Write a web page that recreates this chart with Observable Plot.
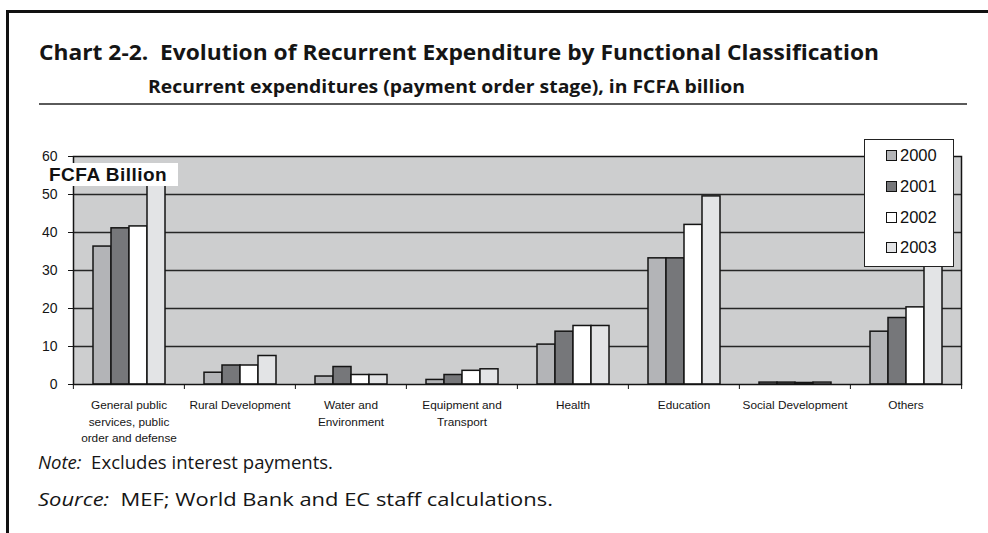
<!DOCTYPE html>
<html>
<head>
<meta charset="utf-8">
<script src="https://cdn.jsdelivr.net/npm/d3@7"></script>
<script src="https://cdn.jsdelivr.net/npm/@observablehq/plot@0.6"></script>
<style>
  html, body { margin: 0; padding: 0; background: #fff; }
  #page { position: relative; width: 988px; height: 533px; overflow: hidden; background: #fff; }
  .bar-top { position: absolute; left: 6px; top: 10px; width: 982px; height: 3px; background: #111; }
  .bar-left { position: absolute; left: 6px; top: 10px; width: 3px; height: 523px; background: #111; }
  .txt { position: absolute; white-space: nowrap; transform-origin: 0 0; font-family: "Open Sans", sans-serif; color: #151515; }
  #title { left: 39px; top: 42px; font-size: 21px; line-height: 21px; font-weight: 700; }
  #subtitle { left: 148px; top: 78px; font-size: 17px; line-height: 17px; font-weight: 700; }
  #rule { position: absolute; left: 39px; top: 103px; width: 928px; height: 2px; background: #5a5a5a; }
  #note { left: 38px; top: 454px; font-size: 17.5px; line-height: 17.5px; }
  #source { left: 38px; top: 491px; font-size: 17.5px; line-height: 17.5px; }
  #chart { position: absolute; left: 0; top: 140px; }
  #unit { position: absolute; left: 43px; top: 163px; width: 135px; height: 23px; background: #fff;
          font-family: "Liberation Sans", Arial, sans-serif; font-weight: 700; font-size: 19px; line-height: 23px;
          letter-spacing: 0.5px; padding-left: 6px; box-sizing: border-box; color: #111; white-space: nowrap; }
  #legend { position: absolute; left: 864px; top: 139px; width: 90px; height: 128px; background: #fff;
            border: 1.5px solid #222; box-sizing: border-box; }
  .lg-row { position: absolute; left: 0; height: 20px; display: flex; align-items: center;
            font-family: "Liberation Sans", Arial, sans-serif; font-size: 16.5px; color: #111; }
  .lg-sw { width: 11px; height: 11px; border: 1.5px solid #111; box-sizing: border-box; margin-left: 21px; margin-right: 3px; }
</style>
</head>
<body>
<div id="page">
  <div class="bar-top"></div>
  <div class="bar-left"></div>
  <div id="title" class="txt">Chart 2-2.&nbsp;&nbsp;Evolution of Recurrent Expenditure by Functional Classification</div>
  <div id="subtitle" class="txt">Recurrent expenditures (payment order stage), in FCFA billion</div>
  <div id="rule"></div>
  <div id="chart"></div>
  <div id="unit">FCFA Billion</div>
  <div id="legend"></div>
  <div id="note" class="txt"><i>Note:</i>&nbsp;&nbsp;Excludes interest payments.</div>
  <div id="source" class="txt"><i>Source:</i>&nbsp;&nbsp;MEF; World Bank and EC staff calculations.</div>
</div>
<script>
// ---- data ----
const categories = [
  "General public services, public order and defense",
  "Rural Development",
  "Water and Environment",
  "Equipment and Transport",
  "Health",
  "Education",
  "Social Development",
  "Others"
];
const categoryLabels = [
  "General public\nservices, public\norder and defense",
  "Rural Development",
  "Water and\nEnvironment",
  "Equipment and\nTransport",
  "Health",
  "Education",
  "Social Development",
  "Others"
];
const years = ["2000", "2001", "2002", "2003"];
const values2000 = [36.3, 3.1, 2.1, 1.2, 10.5, 33.2, 0.5, 13.9];
const values2001 = [41.1, 5.0, 4.6, 2.5, 13.9, 33.2, 0.5, 17.5];
const values2002 = [41.6, 5.0, 2.5, 3.6, 15.4, 42.0, 0.4, 20.3];
const values2003 = [55.0, 7.5, 2.5, 4.0, 15.4, 49.5, 0.5, 36.0];
const yTicks = [0, 10, 20, 30, 40, 50, 60];
const gridTicks = [10, 20, 30, 40, 50];
const yearColors = ["#b3b4b7", "#76777a", "#ffffff", "#e3e4e6"];

const series = [values2000, values2001, values2002, values2003];
const rows = [];
categories.forEach((c, i) => years.forEach((y, j) => rows.push({category: c, year: y, value: series[j][i]})));
const labelOf = new Map(categories.map((c, i) => [c, categoryLabels[i]]));

// ---- layout ----
const W = 988, H = 320, mL = 72, mR = 26, mT = 16, mB = 76;
const facetW = (W - mL - mR) / categories.length;

const chart = Plot.plot({
  width: W, height: H,
  marginLeft: mL, marginRight: mR, marginTop: mT, marginBottom: mB,
  style: {fontFamily: "'Liberation Sans', Arial, sans-serif", color: "#151515", background: "transparent", overflow: "visible"},
  fx: {domain: categories, padding: 0, label: null},
  x: {domain: years, paddingInner: 0, paddingOuter: 1.04, axis: null},
  y: {domain: [0, 60], axis: null},
  color: {domain: years, range: yearColors},
  marks: [
    Plot.frame({facet: "super", fill: "#cdcecf"}),
    Plot.ruleY(gridTicks, {stroke: "#262626", strokeWidth: 1.4}),
    Plot.barY(rows, {fx: "category", x: "year", y: "value", fill: "year", stroke: "#141414", strokeWidth: 1.5}),
    Plot.frame({facet: "super", stroke: "#141414", strokeWidth: 1.5}),
    Plot.axisY({ticks: yTicks, tickSize: 5, tickPadding: 11, fontSize: 14, label: null, stroke: "#141414"}),
    Plot.axisFx({anchor: "bottom", tickSize: 0, tickPadding: 13, fontSize: 11.8, lineHeight: 1.4, label: null,
                 tickFormat: d => labelOf.get(d)}),
    Plot.axisFx({anchor: "bottom", tickSize: 5, label: null, tickFormat: () => "", dx: -facetW / 2, stroke: "#141414"}),
    Plot.axisFx({anchor: "bottom", ticks: [categories[categories.length - 1]], tickSize: 5, label: null,
                 tickFormat: () => "", dx: facetW / 2, stroke: "#141414"})
  ]
});
document.getElementById("chart").appendChild(chart);

// ---- legend ----
const legend = document.getElementById("legend");
const rowCenters = [17, 47.7, 78.7, 109.3];
years.forEach((y, i) => {
  const r = document.createElement("div");
  r.className = "lg-row";
  r.style.top = (rowCenters[i] - 10 - 1.5) + "px";
  const sw = document.createElement("span");
  sw.className = "lg-sw";
  sw.style.background = yearColors[i];
  const t = document.createElement("span");
  t.textContent = y;
  r.appendChild(sw); r.appendChild(t);
  legend.appendChild(r);
});

// ---- fit condensed header / footer text widths ----
const targets = {title: 840, subtitle: 597, note: 295, source: 515};
for (const [id, w] of Object.entries(targets)) {
  const el = document.getElementById(id);
  const actual = el.getBoundingClientRect().width;
  el.style.transform = `scaleX(${w / actual})`;
}
</script>
</body>
</html>
